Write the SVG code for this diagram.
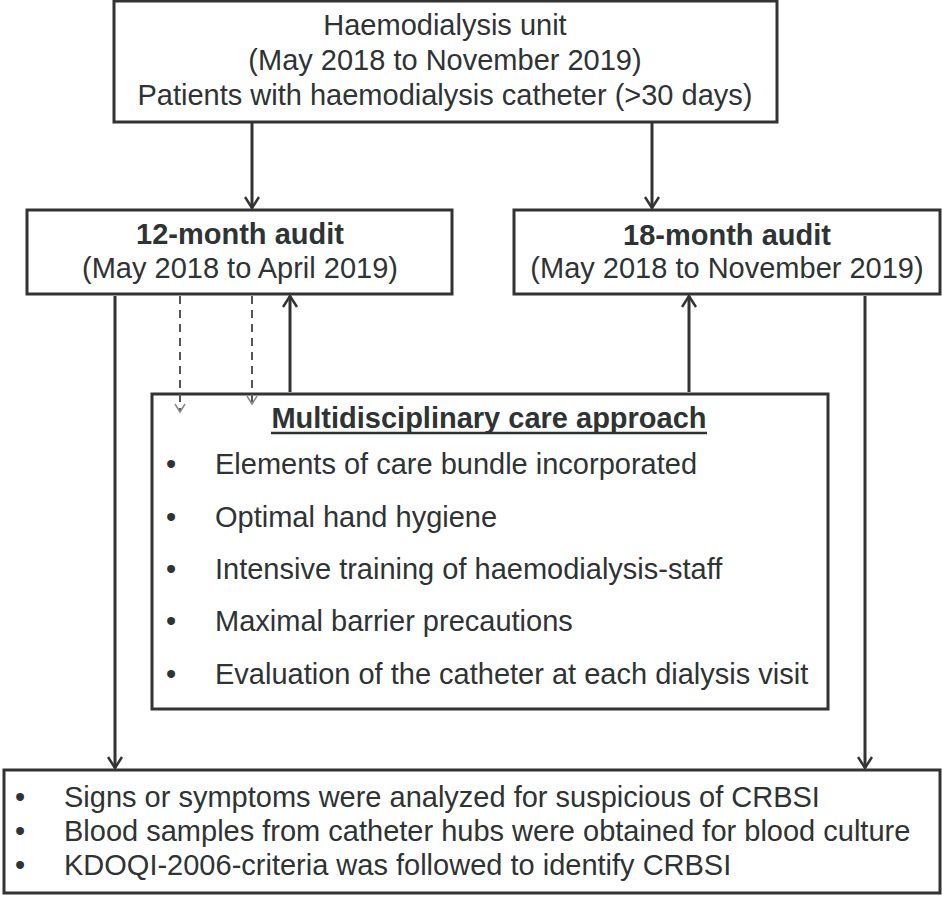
<svg xmlns="http://www.w3.org/2000/svg" width="942" height="902" viewBox="0 0 942 902">
<style>
.box{fill:#fff;stroke:#333;stroke-width:3}
.t{font-family:"Liberation Sans",Arial,sans-serif;font-size:29px;fill:#2e3333}
.b{font-weight:bold}
.c{text-anchor:middle}
.con{stroke:#333;stroke-width:3;fill:none}
.dash{stroke:#555;stroke-width:2;fill:none;stroke-dasharray:8 6}
</style>
<defs>
<marker id="ah" markerWidth="16" markerHeight="16" refX="14" refY="8" orient="auto" markerUnits="userSpaceOnUse" viewBox="0 0 16 16">
<polyline points="3,1 14,8 3,15" fill="none" stroke="#333" stroke-width="2.5"/>
</marker>
<marker id="ahd" markerWidth="12" markerHeight="12" refX="10" refY="6" orient="auto" markerUnits="userSpaceOnUse" viewBox="0 0 12 12">
<polyline points="2,1 10,6 2,11" fill="none" stroke="#888" stroke-width="1.5"/>
</marker>
</defs>
<rect width="942" height="902" fill="#fff"/>
<g id="unit">
<rect class="box" x="114" y="1" width="663" height="121"/>
<text class="t c" x="445" y="35">Haemodialysis unit</text>
<text class="t c" x="445" y="70">(May 2018 to November 2019)</text>
<text class="t c" x="445" y="105">Patients with haemodialysis catheter (&gt;30 days)</text>
</g>
<g id="audit12">
<rect class="box" x="27" y="210" width="425" height="84"/>
<text class="t b c" x="240" y="244">12-month audit</text>
<text class="t c" x="240" y="278">(May 2018 to April 2019)</text>
</g>
<g id="audit18">
<rect class="box" x="514" y="210" width="426" height="84"/>
<text class="t b c" x="727" y="245">18-month audit</text>
<text class="t c" x="727" y="278">(May 2018 to November 2019)</text>
</g>
<g id="care">
<rect class="box" x="152" y="394" width="676" height="315"/>
<text class="t b c" x="489" y="428">Multidisciplinary care approach</text>
<line x1="271" y1="433" x2="707" y2="433" stroke="#2e3333" stroke-width="2.5"/>
<text class="t" x="166" y="474">•</text><text class="t" x="215" y="474">Elements of care bundle incorporated</text>
<text class="t" x="166" y="527">•</text><text class="t" x="215" y="527">Optimal hand hygiene</text>
<text class="t" x="166" y="579">•</text><text class="t" x="215" y="579">Intensive training of haemodialysis-staff</text>
<text class="t" x="166" y="631">•</text><text class="t" x="215" y="631">Maximal barrier precautions</text>
<text class="t" x="166" y="684">•</text><text class="t" x="215" y="684">Evaluation of the catheter at each dialysis visit</text>
</g>
<g id="crbsi">
<rect class="box" x="4" y="770" width="936" height="123"/>
<text class="t" x="15" y="807">•</text><text class="t" x="64" y="807">Signs or symptoms were analyzed for suspicious of CRBSI</text>
<text class="t" x="15" y="841">•</text><text class="t" x="64" y="841">Blood samples from catheter hubs were obtained for blood culture</text>
<text class="t" x="15" y="875">•</text><text class="t" x="64" y="875">KDOQI-2006-criteria was followed to identify CRBSI</text>
</g>
<g id="connectors">
<line class="con" x1="252" y1="123" x2="252" y2="208" marker-end="url(#ah)"/>
<line class="con" x1="652" y1="123" x2="652" y2="208" marker-end="url(#ah)"/>
<line class="con" x1="290" y1="392" x2="290" y2="296" marker-end="url(#ah)"/>
<line class="con" x1="689" y1="392" x2="689" y2="296" marker-end="url(#ah)"/>
<line class="con" x1="115" y1="296" x2="115" y2="768" marker-end="url(#ah)"/>
<line class="con" x1="865" y1="296" x2="865" y2="768" marker-end="url(#ah)"/>
<line class="dash" x1="180" y1="296" x2="180" y2="412" marker-end="url(#ahd)"/>
<line class="dash" x1="252" y1="296" x2="252" y2="404" marker-end="url(#ahd)"/>
</g>
</svg>
